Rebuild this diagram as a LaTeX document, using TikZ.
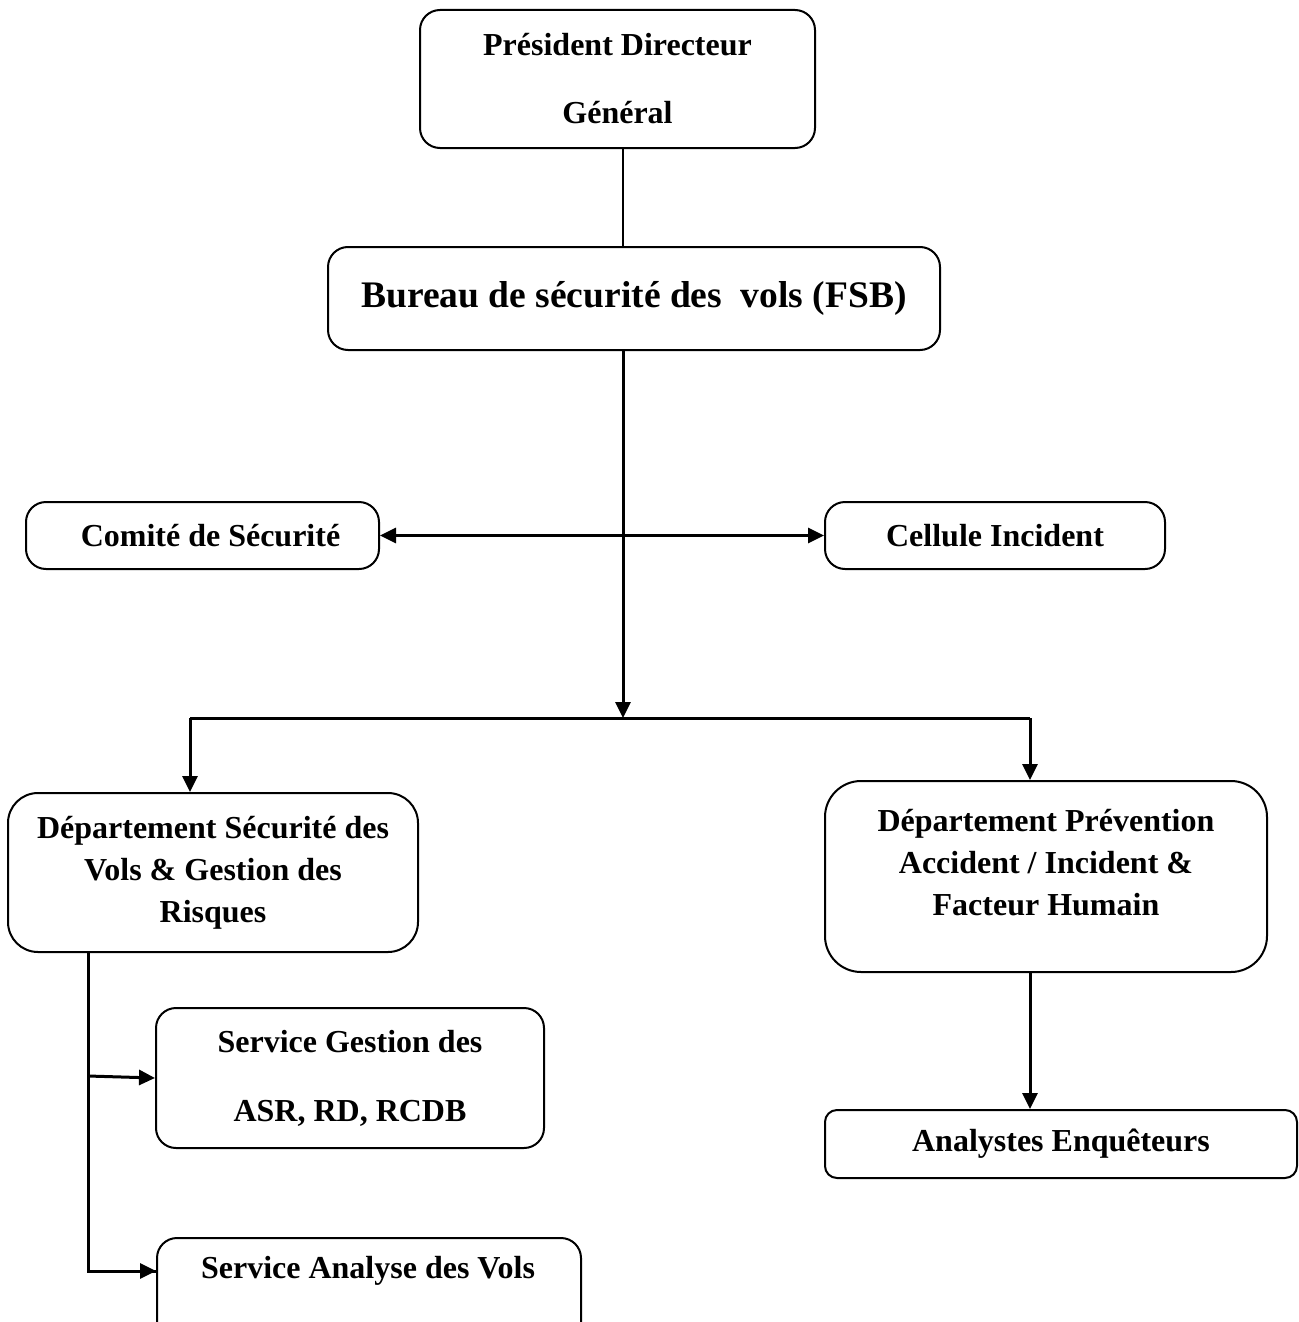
\documentclass[tikz,border=0pt]{standalone}
\usepackage{fontspec}
\setmainfont{Liberation Serif}
\usetikzlibrary{arrows.meta}
\begin{document}
\begin{tikzpicture}[x=1pt,y=-1pt,
  box/.style={draw=black,line width=2pt,rounded corners=20pt,inner sep=0pt,align=center,
    font=\fontsize{32}{42}\selectfont\bfseries},
  txt/.style={inner sep=0pt,font=\fontsize{32}{42}\selectfont\bfseries},
  conn/.style={line width=3pt},
  arr/.style={line width=3pt,-{Triangle[length=16pt,width=15pt]}},
  darr/.style={line width=3pt,{Triangle[length=16pt,width=15pt]}-{Triangle[length=16pt,width=15pt]}}]
\useasboundingbox (0,0) rectangle (1298,1322);
\fill[white] (0,0) rectangle (1298,1322);

\node[box,minimum width=395pt,minimum height=138pt,font=\fontsize{32}{68}\selectfont\bfseries]
  (pdg) at (617.5,79) {Président Directeur\\Général};
\node[box,minimum width=612pt,minimum height=103pt,font=\fontsize{37.5}{42}\selectfont\bfseries]
  (fsb) at (634,298.5) {Bureau de sécurité des\ \ vols (FSB)};
\node[box,minimum width=353pt,minimum height=67pt] (com) at (202.5,535.5) {\hspace*{16pt}Comité de Sécurité};
\node[box,minimum width=340pt,minimum height=67pt] (cel) at (995,535.5) {Cellule Incident};
\node[box,minimum width=410pt,minimum height=159pt,rounded corners=30pt] (d1) at (213,872.5)
  {Département Sécurité des\\Vols \& Gestion des\\Risques};
\node[box,minimum width=442pt,minimum height=191pt,rounded corners=36pt] (d2) at (1046,876.5)
  {Département Prévention\\Accident / Incident \&\\Facteur Humain\\[-13pt]\mbox{}};
\node[box,minimum width=472pt,minimum height=68pt,rounded corners=12pt] (ana) at (1061,1144) {Analystes Enquêteurs};
\node[box,minimum width=388pt,minimum height=140pt,font=\fontsize{32}{69}\selectfont\bfseries]
  (sg) at (350,1078) {Service Gestion des\\ASR, RD, RCDB};
\node[box,minimum width=424pt,minimum height=130pt,anchor=north west] (sav) at (156,1237) {};
\node[txt] (savt) at (368,1271) {Service Analyse des Vols};

\coordinate (j) at (623,718);
\coordinate (trunk) at (88,0);
\coordinate (l) at (190,718);
\coordinate (r) at (1030,718);

\draw[line width=1.5pt] (pdg.south -| j) -- (fsb.north -| j);
\draw[arr] (fsb.south -| j) -- (j);
\draw[darr] (com.east) -- (cel.west);
\draw[conn] (l) -- (r);
\draw[arr] (l) -- (l |- d1.north);
\draw[arr] (r) -- (r |- d2.north);
\draw[arr] (r |- d2.south) -- (r |- ana.north);
\draw[conn] (trunk |- d1.south) |- (sav.west |- savt);
\draw[arr] (trunk |- savt) -- (sav.west |- savt);
\draw[arr] ([yshift=2pt]trunk |- sg.west) -- (sg.west);
\end{tikzpicture}
\end{document}
